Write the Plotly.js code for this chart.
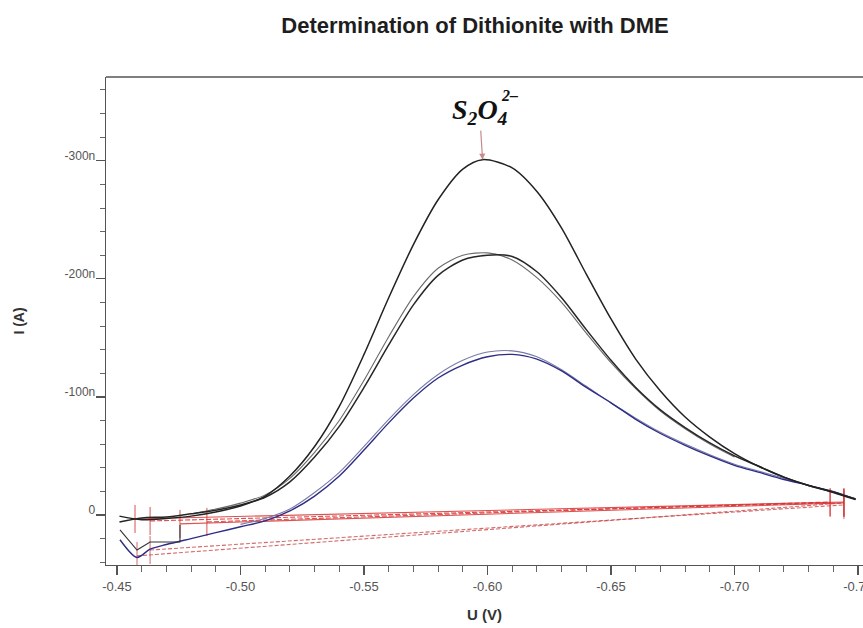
<!DOCTYPE html>
<html>
<head>
<meta charset="utf-8">
<script src="https://cdn.plot.ly/plotly-3.0.1.min.js"></script>
<style>html,body{margin:0;padding:0;background:#fff;}#chart{width:863px;height:628px;}</style>
</head>
<body>
<div id="chart"></div>
<script>
// ---- data (U in V, I in nA) ----
const U_top = [-0.451,-0.46,-0.47,-0.48,-0.49,-0.50,-0.51,-0.52,-0.53,-0.54,-0.55,-0.56,-0.57,-0.58,-0.59,-0.598,-0.61,-0.62,-0.63,-0.64,-0.65,-0.66,-0.67,-0.68,-0.69,-0.70,-0.71,-0.72,-0.73,-0.74,-0.749];
const I_top = [1,4,3,1,-2.5,-7.6,-16,-33,-58,-92,-136,-184,-229,-267,-293,-301,-294,-274,-243,-204,-166,-132,-105,-83,-66,-52,-41,-32,-25,-19,-13];

const U_mid = [-0.451,-0.46,-0.47,-0.48,-0.49,-0.50,-0.51,-0.52,-0.53,-0.54,-0.55,-0.56,-0.57,-0.58,-0.59,-0.60,-0.61,-0.62,-0.63,-0.64,-0.65,-0.66,-0.67,-0.68,-0.69,-0.70,-0.71,-0.72,-0.73,-0.74,-0.749];
const I_mid = [6,2.5,1.7,-1,-4,-8.5,-15,-28,-49,-75,-108,-144,-178,-203,-216,-220,-219,-206,-184,-157,-131,-108,-89,-74,-61,-50,-41,-32,-25,-19.5,-13.5];

const U_mid2 = [-0.48,-0.49,-0.50,-0.51,-0.52,-0.53,-0.54,-0.55,-0.56,-0.57,-0.58,-0.59,-0.60,-0.61,-0.62,-0.63,-0.64,-0.65,-0.66,-0.67,-0.68,-0.69,-0.70];
const I_mid2 = [-1,-5,-10,-17,-31,-53,-80,-114,-151,-185,-209,-220,-222,-216,-201,-180,-154,-129,-107,-88,-73,-60,-49];

const U_blue = [-0.4512,-0.4581,-0.4634,-0.47,-0.48,-0.49,-0.50,-0.51,-0.52,-0.53,-0.54,-0.55,-0.56,-0.57,-0.58,-0.59,-0.60,-0.61,-0.62,-0.63,-0.64,-0.65,-0.66,-0.67,-0.68,-0.69,-0.70,-0.71,-0.72,-0.73,-0.74,-0.749];
const I_blue = [21,36,29,25,20,15,10,5,-3.4,-16,-33,-55,-78,-99,-116,-127,-134,-136,-132,-122,-108,-95,-81,-69,-59,-50,-42,-36,-30,-25,-19.5,-13.5];

const U_blue2 = [-0.50,-0.51,-0.52,-0.53,-0.54,-0.55,-0.56,-0.57,-0.58,-0.59,-0.60,-0.61,-0.62,-0.63,-0.64,-0.65,-0.66,-0.67,-0.68,-0.69,-0.70,-0.71,-0.72,-0.73,-0.74,-0.749];
const I_blue2 = [8,3,-5,-19,-36,-58,-81,-102,-119,-131,-138,-139,-134,-123,-109,-95,-82,-70,-60,-51,-43,-37,-31,-25,-20,-13.5];

const U_step = [-0.4512,-0.4581,-0.4634,-0.4755,-0.4755];
const I_step = [12.7,29.7,22.9,22.9,8.5];

// baselines: [U_start, U_end], [I_start, I_end]
const U_base1 = [-0.4573,-0.7443], I_base1 = [3.4,-11];
const U_base2 = [-0.4634,-0.7387], I_base2 = [5.1,-10.2];
const U_base3 = [-0.4755,-0.7443], I_base3 = [7.6,-10.2];
const U_base4 = [-0.4864,-0.7387], I_base4 = [5.9,-11];
const U_low1 = [-0.4581,-0.7443], I_low1 = [34.7,-10.2];
const U_low2 = [-0.4634,-0.7443], I_low2 = [29.7,-8.5];

const xTickVals = [-0.45,-0.50,-0.55,-0.60,-0.65,-0.70,-0.75];
const xTickText = ["-0.45","-0.50","-0.55","-0.60","-0.65","-0.70","-0.75"];
const yTickVals = [-300,-200,-100,0];
const yTickText = ["-300n","-200n","-100n","0"];

const titleText = "Determination of Dithionite with DME";

// ---- traces ----
function curve(x, y, color, w, dash) {
  return {x: x, y: y, type: 'scatter', mode: 'lines',
          line: {color: color, width: w, shape: 'spline', smoothing: 0.8, dash: dash || 'solid'},
          hoverinfo: 'skip', showlegend: false};
}
function base(x, y, color, dash) {
  return {x: x, y: y, type: 'scatter', mode: 'lines+markers',
          line: {color: color, width: 1.1, dash: dash || 'solid'},
          marker: {symbol: 'line-ns-open', size: 20, line: {color: '#b84a4a', width: 1}},
          hoverinfo: 'skip', showlegend: false};
}

const traces = [
  base(U_low1, I_low1, 'rgba(200,70,70,0.8)', '4px,2px'),
  base(U_low2, I_low2, 'rgba(200,70,70,0.8)', '4px,2px'),
  base(U_base1, I_base1, 'rgba(215,50,50,0.85)'),
  base(U_base2, I_base2, 'rgba(215,50,50,0.85)', '5px,2px'),
  base(U_base3, I_base3, 'rgba(215,50,50,0.85)'),
  base(U_base4, I_base4, 'rgba(215,50,50,0.85)', '5px,2px'),
  curve(U_blue2, I_blue2, '#7a7aa8', 1.1),
  curve(U_blue, I_blue, '#2d2d86', 1.4),
  curve(U_mid2, I_mid2, '#6a6a6a', 1.1),
  curve(U_mid, I_mid, '#262626', 1.5),
  curve(U_top, I_top, '#222222', 1.5),
  {x: U_step, y: I_step, type: 'scatter', mode: 'lines', line: {color: '#333', width: 1.1},
   hoverinfo: 'skip', showlegend: false}
];

// peak of the top curve, for the arrow
let pk = 0;
for (let i = 1; i < I_top.length; i++) if (I_top[i] < I_top[pk]) pk = i;

const L = 106, R = 0, T = 77, B = 63, W = 863, H = 628;
function px2paperX(px) { return (px - L) / (W - L - R); }
function px2paperY(py) { return (H - B - py) / (H - T - B); }

const FONT = '"Liberation Sans", Arial, sans-serif';
const SERIF = '"Liberation Serif", "Times New Roman", serif';

const layout = {
  width: W, height: H,
  margin: {l: L, r: R, t: T, b: B, pad: 0},
  paper_bgcolor: '#fff', plot_bgcolor: '#fff',
  showlegend: false,
  title: {text: titleText, x: 475 / W, xanchor: 'center', xref: 'container',
          y: 1 - 25 / H, yanchor: 'middle', yref: 'container',
          font: {family: FONT, size: 22, weight: 'bold', color: '#1e1e1e'}},
  xaxis: {
    range: [-0.44555, -0.75202], showgrid: false, zeroline: false,
    showline: true, linecolor: '#555', linewidth: 1.3,
    tickmode: 'array', tickvals: xTickVals, ticktext: xTickText,
    ticks: 'outside', ticklen: 9, tickcolor: '#555', tickwidth: 1.2,
    ticklabeloverflow: 'allow',
    minor: {dtick: 0.01, tick0: 0, ticks: 'outside', ticklen: 6, tickcolor: '#666', tickwidth: 1},
    tickfont: {family: FONT, size: 13, color: '#555'},
    title: {text: 'U (V)', standoff: 16,
            font: {family: FONT, size: 15, weight: 'bold', color: '#333'}}
  },
  yaxis: {
    range: [42.4, -371], showgrid: false, zeroline: false,
    showline: true, linecolor: '#555', linewidth: 1.3,
    tickmode: 'array', tickvals: yTickVals, ticktext: yTickText,
    ticks: 'outside', ticklen: 9, tickcolor: '#555', tickwidth: 1.2,
    minor: {dtick: 20, tick0: 0, ticks: 'outside', ticklen: 5, tickcolor: '#666', tickwidth: 1},
    tickfont: {family: FONT, size: 12, color: '#555'},
    ticklabelstandoff: -2, ticklabelshift: 5,
    title: {text: 'I (A)', standoff: 36,
            font: {family: FONT, size: 14, weight: 'bold', color: '#333'}}
  },
  shapes: [
    {type: 'line', xref: 'paper', yref: 'paper', x0: 0, x1: 1.01, y0: 1, y1: 1,
     line: {color: '#555', width: 1.3}}
  ],
  annotations: [
    {x: U_top[pk], y: I_top[pk], xref: 'x', yref: 'y',
     text: 'S<sub>2</sub>O<sub>4</sub>', showarrow: true,
     ax: -3, ay: -48, arrowhead: 2, arrowsize: 1, arrowwidth: 1.2, arrowcolor: '#c98a8a', standoff: 0,
     font: {family: SERIF, size: 28, weight: 'bold', style: 'italic', color: '#111'}},
    {x: px2paperX(509), y: px2paperY(95), xref: 'paper', yref: 'paper', xanchor: 'center', yanchor: 'middle',
     text: '2–', showarrow: false,
     font: {family: SERIF, size: 16, weight: 'bold', style: 'italic', color: '#111'}}
  ]
};

Plotly.newPlot('chart', traces, layout, {staticPlot: true, displayModeBar: false});
</script>
</body>
</html>
